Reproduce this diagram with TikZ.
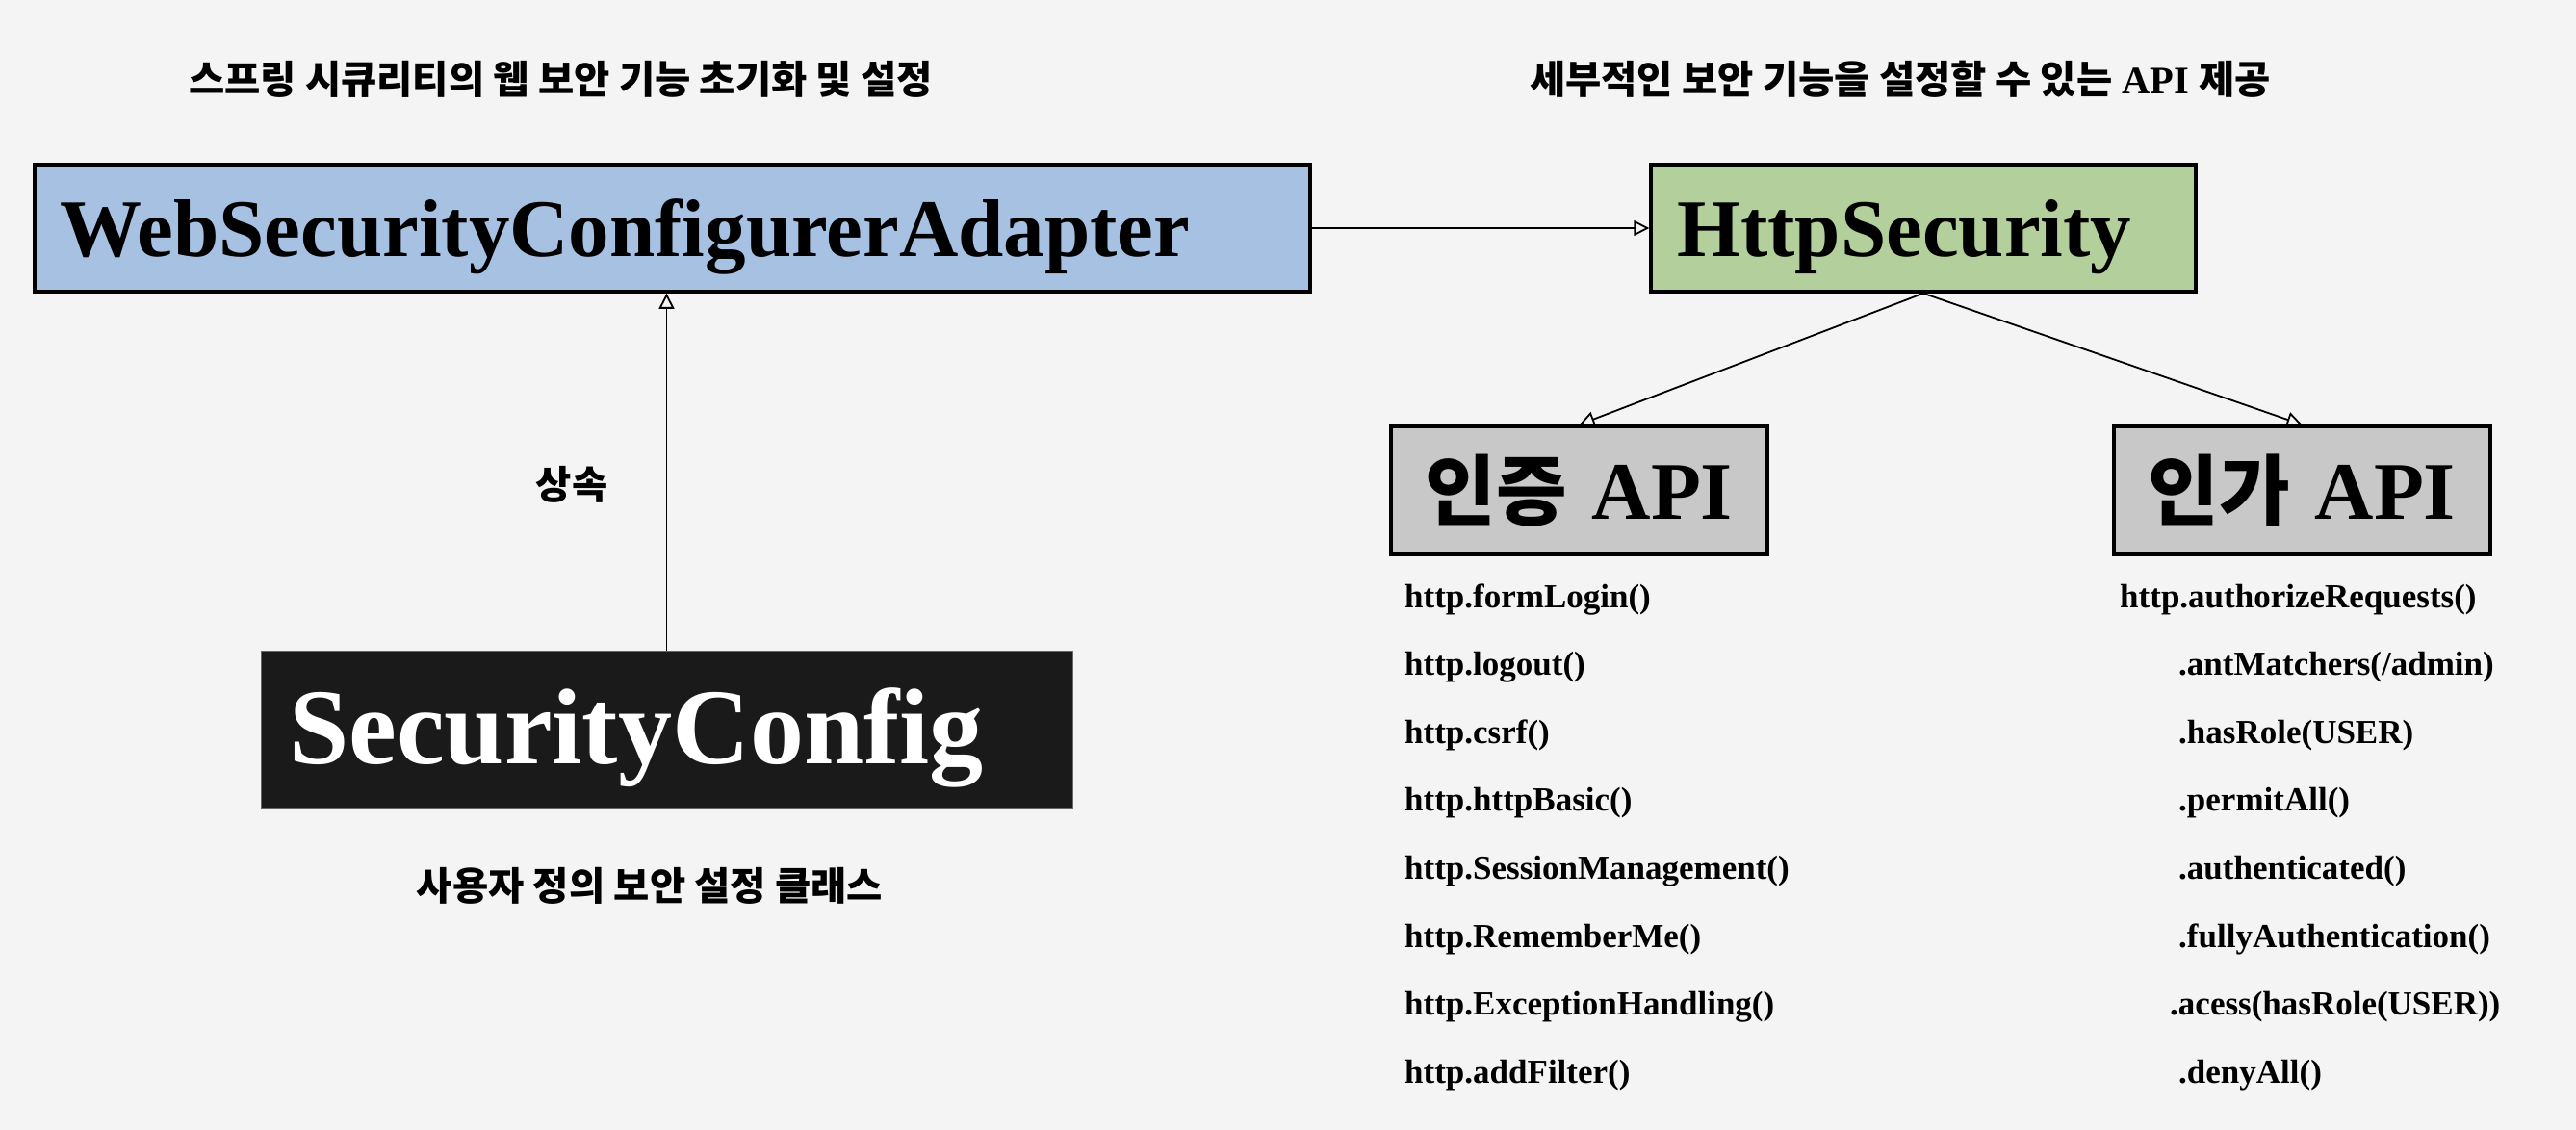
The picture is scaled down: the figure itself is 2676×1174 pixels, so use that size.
\documentclass[tikz,border=0pt]{standalone}
\usepackage{fontspec}
\setmainfont{Liberation Serif}
\newfontfamily\kr{Noto Sans CJK KR}
\usetikzlibrary{arrows.meta}
\definecolor{bgc}{RGB}{244,244,244}
\definecolor{bluebox}{RGB}{167,193,227}
\definecolor{greenbox}{RGB}{179,207,155}
\definecolor{graybox}{RGB}{200,200,200}
\definecolor{darkbox}{RGB}{26,26,26}
\tikzset{
  bigbox/.style={draw=black, line width=3.5pt, rectangle, text height=70pt, text depth=10pt,
    font=\bfseries\fontsize{85}{100}\selectfont},
  leftbox/.style={bigbox, inner xsep=26pt, align=left},
  apibox/.style={bigbox, fill=graybox, minimum width=391pt, minimum height=133pt, inner xsep=0pt, align=center, text width=391pt},
  kortext/.style={inner sep=0pt, font=\kr\bfseries\fontsize{40.5}{48}\selectfont},
  listitem/.style={anchor=base west, inner sep=0pt, font=\bfseries\fontsize{35}{42}\selectfont},
  conn/.style={line width=1.8pt, -{Triangle[open, length=16pt, width=16pt, line width=1.8pt]}}
}
\begin{document}
\begin{tikzpicture}[x=1pt, y=-1pt]
\fill[bgc] (0,0) rectangle (2676,1174);
\useasboundingbox (0,0) rectangle (2676,1174);

% titles
\node[kortext] (t1) at (582.5,82) {스프링 시큐리티의 웹 보안 기능 초기화 및 설정};
\node[kortext, font=\bfseries\fontsize{40.5}{48}\selectfont] (t2) at (1974,82) {{\kr 세부적인 보안 기능을 설정할 수 있는} API {\kr 제공}};

% main boxes
\node[leftbox, fill=bluebox, text width=1273pt, minimum height=132pt] (wsca) at (698.5,237) {WebSecurityConfigurerAdapter};
\node[leftbox, fill=greenbox, inner xsep=27pt, text width=512pt, minimum height=132pt] (hs) at (1998,237) {HttpSecurity};

\node[apibox] (authn) at (1640.5,509.5) {{\kr\fontsize{80}{100}\selectfont 인증}\hspace{0.3em}API};
\node[apibox] (authz) at (2391.5,509.5) {{\kr\fontsize{80}{100}\selectfont 인가}\hspace{0.3em}API};

\node[draw=black!60, line width=1pt, fill=darkbox, text=white, rectangle, inner xsep=29pt, text width=785pt, align=left,
  minimum height=163pt, text height=80pt, text depth=9pt, font=\bfseries\fontsize{112}{130}\selectfont] (sc) at (692.5,757.5) {SecurityConfig};

% labels
\node[kortext] (inh) at (594,503) {상속};
\node[kortext] (scl) at (675,920) {사용자 정의 보안 설정 클래스};

% connectors
\draw[conn] (wsca.east) -- (hs.west);
\draw[conn] (sc.north) -- (sc.north |- wsca.south);
\draw[conn] (hs.south) -- (authn.north);
\draw[conn] (hs.south) -- (authz.north);

% left list
\node[listitem] (l1) at (1459,631) {http.formLogin()};
\node[listitem] (l2) at (1459,701.6) {http.logout()};
\node[listitem] (l3) at (1459,772.2) {http.csrf()};
\node[listitem] (l4) at (1459,842.8) {http.httpBasic()};
\node[listitem] (l5) at (1459,913.4) {http.SessionManagement()};
\node[listitem] (l6) at (1459,984) {http.RememberMe()};
\node[listitem] (l7) at (1459,1054.6) {http.ExceptionHandling()};
\node[listitem] (l8) at (1459,1125.2) {http.addFilter()};

% right list
\node[listitem] (r1) at (2202,631) {http.authorizeRequests()};
\node[listitem] (r2) at (2263,701.6) {.antMatchers(/admin)};
\node[listitem] (r3) at (2263,772.2) {.hasRole(USER)};
\node[listitem] (r4) at (2263,842.8) {.permitAll()};
\node[listitem] (r5) at (2263,913.4) {.authenticated()};
\node[listitem] (r6) at (2263,984) {.fullyAuthentication()};
\node[listitem] (r7) at (2254,1054.6) {.acess(hasRole(USER))};
\node[listitem] (r8) at (2263,1125.2) {.denyAll()};
\end{tikzpicture}
\end{document}
